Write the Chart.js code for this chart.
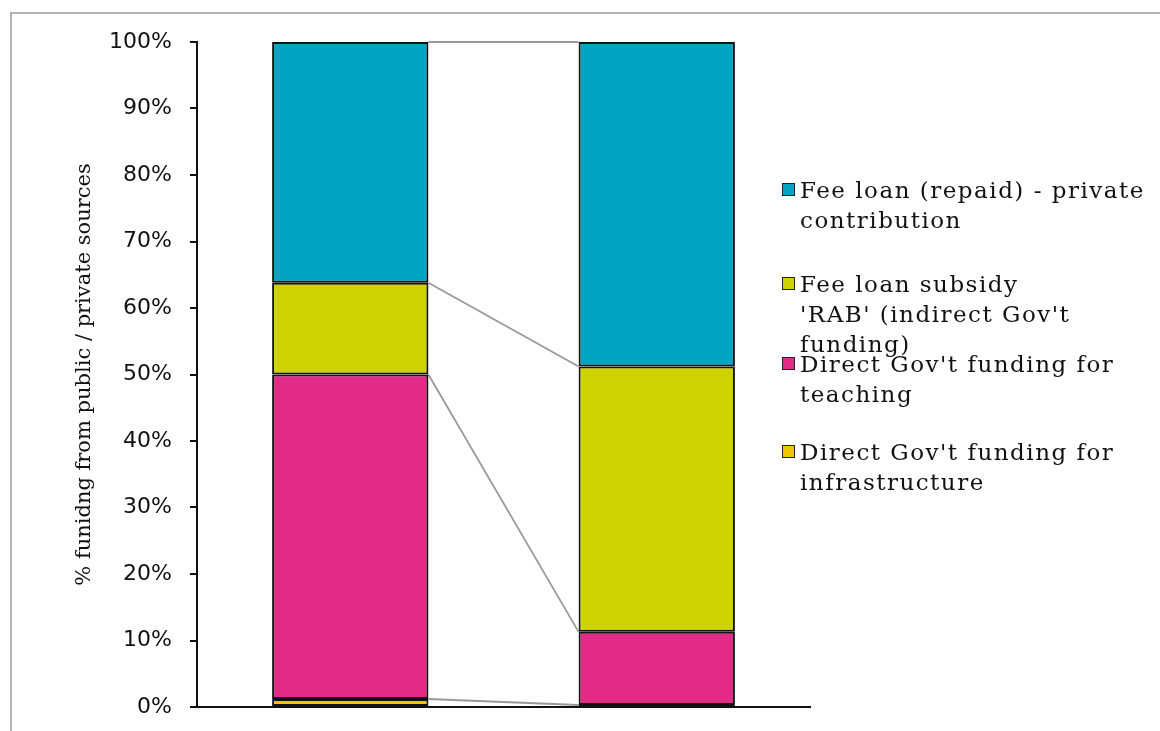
<!DOCTYPE html>
<html>
<head>
<meta charset="utf-8">
<script src="https://cdn.jsdelivr.net/npm/chart.js@4.4.1/dist/chart.umd.min.js"></script>
<style>
  html, body { margin: 0; padding: 0; background: #fff; }
  #wrap { position: relative; width: 1160px; height: 731px; overflow: hidden; }
  #frame { position: absolute; left: 10px; top: 12px; width: 1200px; height: 800px;
           border-left: 2px solid #b3b3b3; border-top: 2px solid #b3b3b3; }
  #chart { position: absolute; left: 0; top: 0; }
  #legend { position: absolute; left: 0; top: 0; font-family: "DejaVu Serif", serif;
            font-size: 23px; letter-spacing: 1.5px; color: #111; }
  .item { position: absolute; left: 782px; line-height: 30px; }
  .box { position: absolute; left: 0; top: 8px; width: 11px; height: 11px;
         border: 1.5px solid #222; }
  .txt { position: absolute; left: 18px; top: 0; white-space: pre; }
</style>
</head>
<body>
<div id="wrap">
  <div id="frame"></div>
  <canvas id="chart" width="1160" height="731"></canvas>
  <div id="legend"></div>
</div>
<script>
// two funding systems, shares in % (bottom of the stack first)
const categorias = ['A', 'B'];
const infraestructura = [1.2, 0.3];
const docencia = [48.8, 11.0];
const subsidioRAB = [13.8, 39.9];
const prestamoPrivado = [36.2, 48.8];

const etiquetas = [
  "Direct Gov't funding for\ninfrastructure",
  "Direct Gov't funding for\nteaching",
  "Fee loan subsidy\n'RAB' (indirect Gov't\nfunding)",
  'Fee loan (repaid) - private\ncontribution'
];
const colores = ['#EFC600', '#E12B86', '#CED300', '#00A5C1'];
const yTicks = [0, 10, 20, 30, 40, 50, 60, 70, 80, 90, 100];

// grey connector lines between the tops of matching segments
const lineasSerie = {
  id: 'lineasSerie',
  beforeDatasetsDraw(chart) {
    const ctx = chart.ctx;
    ctx.save();
    ctx.strokeStyle = '#999';
    ctx.lineWidth = 1.8;
    chart.data.datasets.forEach((ds, i) => {
      const bars = chart.getDatasetMeta(i).data;
      const a = bars[0], b = bars[1];
      ctx.beginPath();
      ctx.moveTo(a.x + a.width / 2, a.y);
      ctx.lineTo(b.x - b.width / 2, b.y);
      ctx.stroke();
    });
    ctx.restore();
  }
};

// soft shadow behind the bars
const sombra = {
  id: 'sombra',
  beforeDatasetDraw(chart) {
    const ctx = chart.ctx;
    ctx.save();
    ctx.shadowColor = 'rgba(0,0,0,0.22)';
    ctx.shadowBlur = 4;
    ctx.shadowOffsetX = 2;
    ctx.shadowOffsetY = 2;
  },
  afterDatasetDraw(chart) {
    chart.ctx.restore();
  }
};

const series = [infraestructura, docencia, subsidioRAB, prestamoPrivado];

const chart = new Chart(document.getElementById('chart').getContext('2d'), {
  type: 'bar',
  data: {
    labels: categorias,
    datasets: series.map((d, i) => ({
      label: etiquetas[i],
      data: d,
      backgroundColor: colores[i],
      borderColor: '#141414',
      borderWidth: 2,
      borderSkipped: false,
      categoryPercentage: 1,
      barPercentage: 0.51
    }))
  },
  options: {
    responsive: false,
    animation: false,
    devicePixelRatio: 1,
    layout: { padding: { left: 0, top: 42, right: 350, bottom: 24 } },
    plugins: { legend: { display: false }, tooltip: { enabled: false } },
    scales: {
      x: {
        stacked: true,
        ticks: { display: false },
        grid: { display: false },
        border: { display: true, color: '#111', width: 2 },
        afterFit(scale) { scale.height = 0; }
      },
      y: {
        stacked: true,
        min: 0,
        max: 100,
        afterBuildTicks(scale) { scale.ticks = yTicks.map(v => ({ value: v })); },
        ticks: {
          callback: v => v + '%',
          color: '#111',
          padding: 18,
          font: { family: 'DejaVu Sans', size: 22 }
        },
        grid: { drawOnChartArea: false, drawTicks: true, tickLength: 7, color: '#111', lineWidth: 2 },
        border: { display: true, color: '#111', width: 2 },
        title: {
          display: true,
          text: '% funidng from public / private sources',
          color: '#111',
          font: { family: 'DejaVu Serif', size: 21 },
          padding: { top: 72, bottom: 0 }
        },
        afterFit(scale) {
          scale.width = 197;
          scale.paddingTop = 0;
          scale.paddingBottom = 0;
        }
      }
    }
  },
  plugins: [lineasSerie, sombra]
});

// legend, top series first
const posiciones = [175, 269, 349, 437];
const legend = document.getElementById('legend');
chart.data.datasets.slice().reverse().forEach((ds, k) => {
  const item = document.createElement('div');
  item.className = 'item';
  item.style.top = posiciones[k] + 'px';
  const box = document.createElement('span');
  box.className = 'box';
  box.style.background = ds.backgroundColor;
  const txt = document.createElement('span');
  txt.className = 'txt';
  txt.textContent = ds.label;
  item.appendChild(box);
  item.appendChild(txt);
  legend.appendChild(item);
});
</script>
</body>
</html>
